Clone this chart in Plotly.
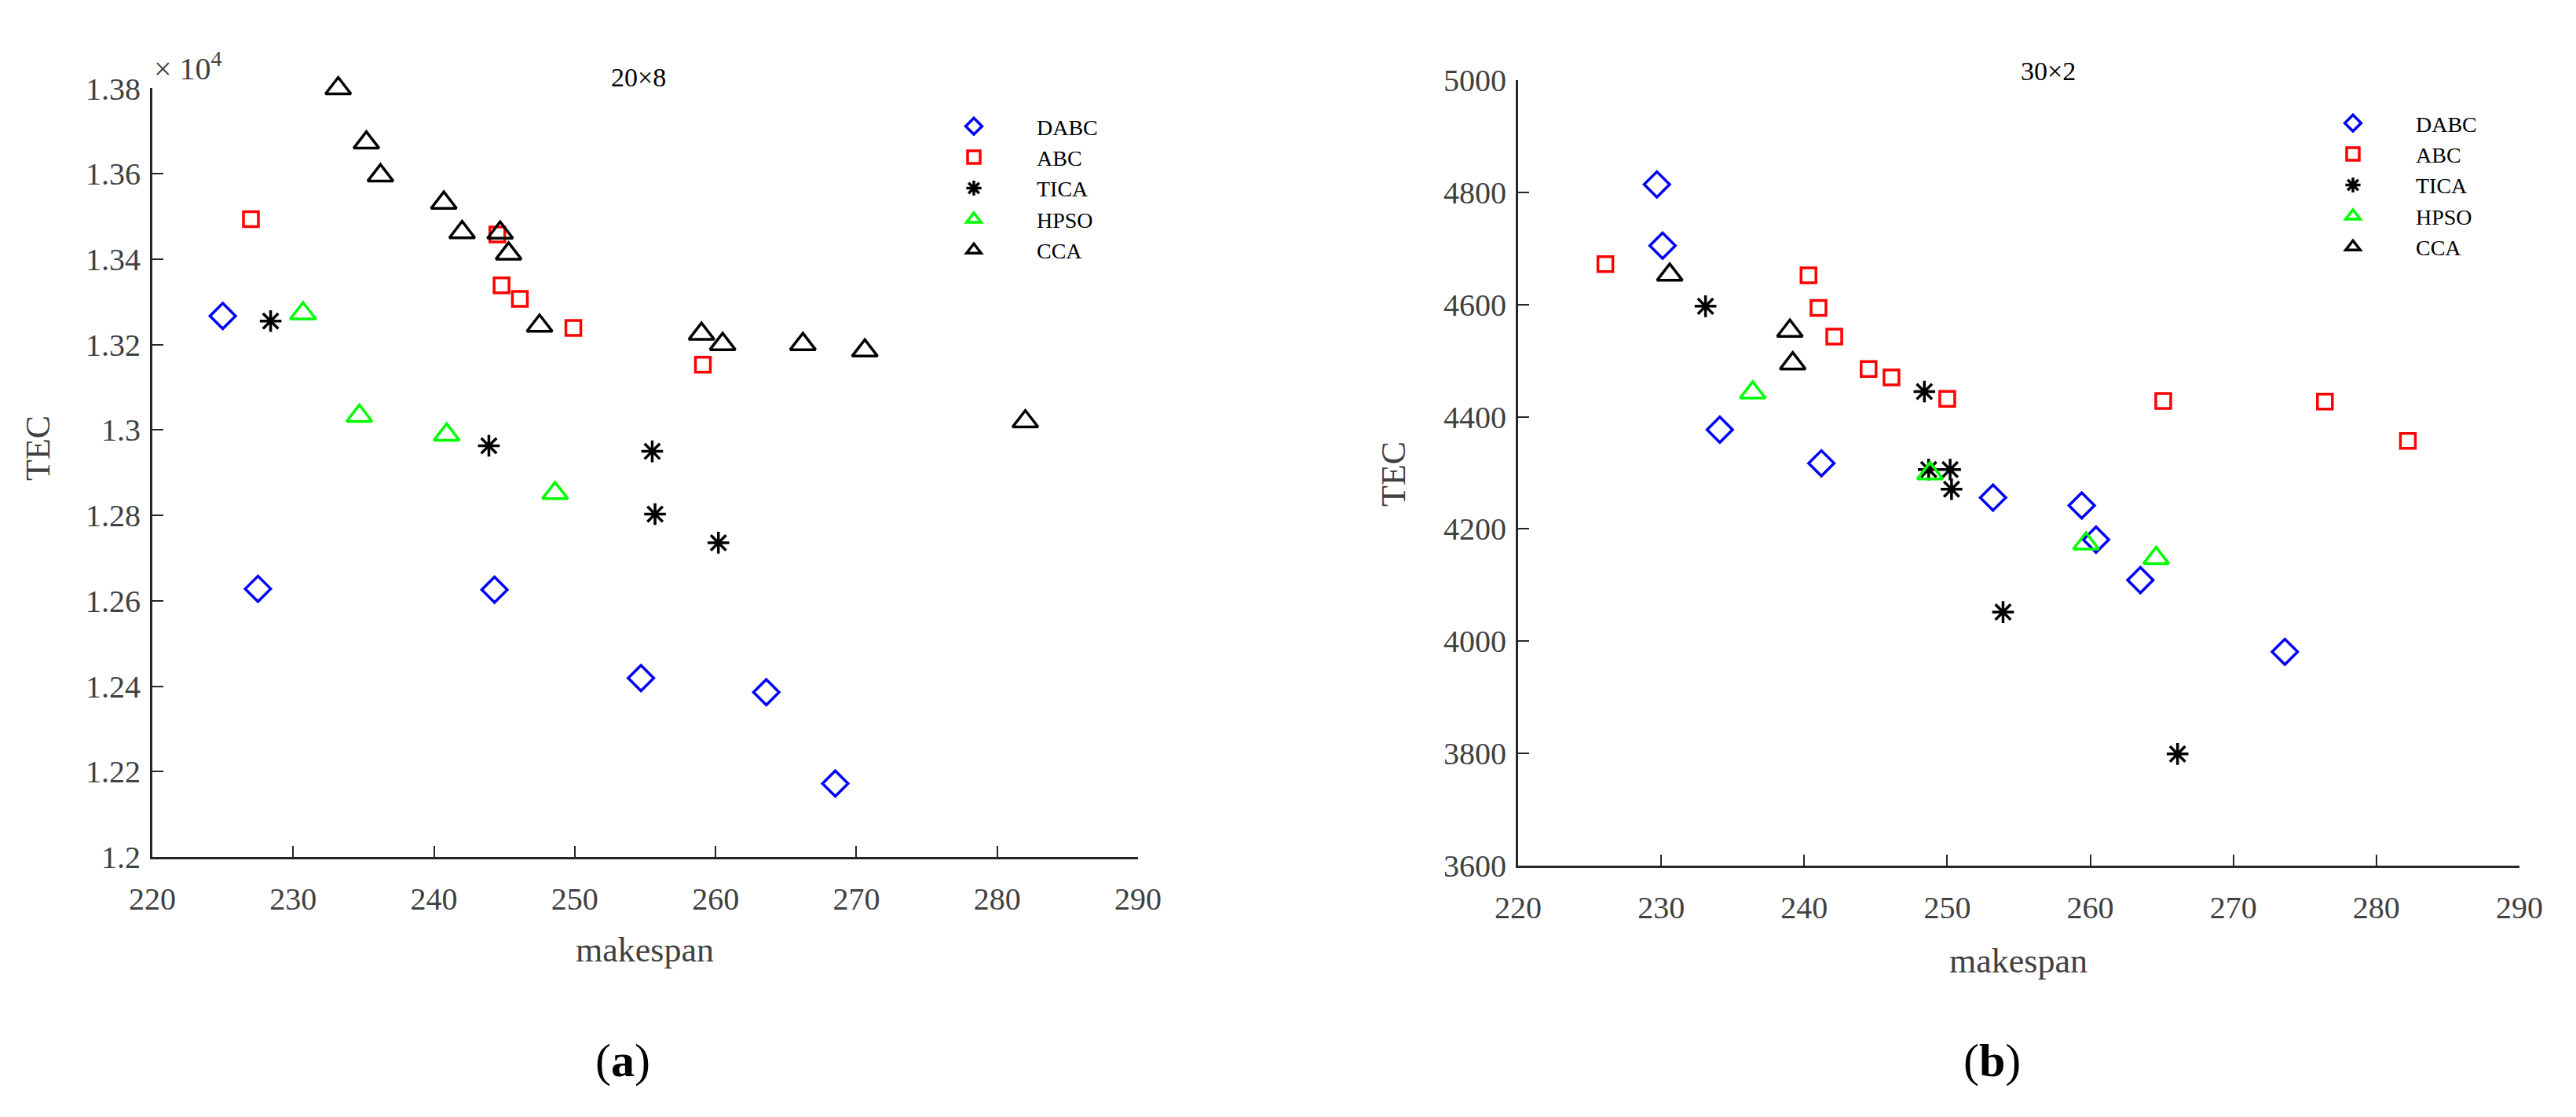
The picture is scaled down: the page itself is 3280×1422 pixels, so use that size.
import plotly.graph_objects as go

# ------------------------------------------
# DATA
# ------------------------------------------
# panel (a): 20x8 instance, TEC given in units of 10^4
A_DABC_X = [225.0, 227.5, 244.3, 254.7, 263.6, 268.5]
A_DABC_Y = [1.3267, 1.2628, 1.2626, 1.2419, 1.2386, 1.2172]
A_ABC_X = [227.0, 244.5, 244.8, 246.1, 249.9, 259.1]
A_ABC_Y = [1.3494, 1.3458, 1.3339, 1.3307, 1.3239, 1.3153]
A_TICA_X = [228.4, 243.9, 255.5, 255.7, 260.2]
A_TICA_Y = [1.3255, 1.2963, 1.2950, 1.2803, 1.2736]
A_HPSO_X = [230.7, 234.7, 240.9, 248.6]
A_HPSO_Y = [1.3273, 1.3033, 1.2989, 1.2852]
A_CCA_X = [233.2, 235.2, 236.2, 240.7, 242.0, 244.7, 245.3, 247.5, 259.0, 260.5, 266.2, 270.6, 282.0]
A_CCA_Y = [1.3800, 1.3673, 1.3596, 1.3532, 1.3463, 1.3462, 1.3413, 1.3244, 1.3225, 1.3201, 1.3201, 1.3186, 1.3020]

# panel (b): 30x2 instance
B_DABC_X = [229.7, 230.1, 234.1, 241.2, 253.2, 259.4, 260.4, 263.5, 273.6]
B_DABC_Y = [4814, 4705, 4377, 4317, 4256, 4242, 4181, 4109, 3981]
B_ABC_X = [226.1, 240.3, 241.0, 242.1, 244.5, 246.1, 250.0, 265.1, 276.4, 282.2]
B_ABC_Y = [4672, 4652, 4594, 4543, 4485, 4470, 4432, 4428, 4427, 4357]
B_TICA_X = [233.1, 248.4, 248.7, 250.2, 250.3, 253.9, 266.1]
B_TICA_Y = [4597, 4445, 4306, 4306, 4271, 4052, 3799]
B_HPSO_X = [236.4, 248.8, 259.7, 264.6]
B_HPSO_Y = [4443, 4299, 4174, 4148]
B_CCA_X = [230.6, 239.0, 239.2]
B_CCA_Y = [4653, 4553, 4495]

X_TICKS = [220, 230, 240, 250, 260, 270, 280, 290]
Y_TICKS_A = [1.2, 1.22, 1.24, 1.26, 1.28, 1.3, 1.32, 1.34, 1.36, 1.38]
Y_LABELS_A = ["1.2", "1.22", "1.24", "1.26", "1.28", "1.3", "1.32", "1.34", "1.36", "1.38"]
Y_TICKS_B = [3600, 3800, 4000, 4200, 4400, 4600, 4800, 5000]

# ------------------------------------------
# STYLE
# ------------------------------------------
W, H = 3280, 1422
FONT = "Liberation Serif"
TICK_GREY = "#404040"
AXIS_COL = "#262626"

# symbol, colour, size
STYLE = {
    "DABC": ("diamond-open", "#0000FF", 25),
    "ABC": ("square-open", "#FF0000", 19),
    "TICA": ("asterisk-open", "#000000", 23),
    "HPSO": ("triangle-up-open", "#00FF00", 28),
    "CCA": ("triangle-up-open", "#000000", 28),
}

PANELS = [
    ("x", "y", "legend", {
        "DABC": (A_DABC_X, A_DABC_Y), "ABC": (A_ABC_X, A_ABC_Y), "TICA": (A_TICA_X, A_TICA_Y),
        "HPSO": (A_HPSO_X, A_HPSO_Y), "CCA": (A_CCA_X, A_CCA_Y)}),
    ("x2", "y2", "legend2", {
        "DABC": (B_DABC_X, B_DABC_Y), "ABC": (B_ABC_X, B_ABC_Y), "TICA": (B_TICA_X, B_TICA_Y),
        "HPSO": (B_HPSO_X, B_HPSO_Y), "CCA": (B_CCA_X, B_CCA_Y)}),
]


def px(x, y):
    """pixel -> paper coords"""
    return x / W, 1 - y / H


fig = go.Figure()
for xa, ya, leg, series in PANELS:
    for name, (xs, ys) in series.items():
        sym, col, size = STYLE[name]
        fig.add_trace(go.Scatter(
            x=xs, y=ys, mode="markers", name=name, xaxis=xa, yaxis=ya, legend=leg,
            cliponaxis=False,
            marker=dict(symbol=sym, size=size, color=col, line=dict(color=col, width=3.5)),
        ))

axis_common = dict(
    showline=True, linecolor=AXIS_COL, linewidth=3, mirror=False,
    ticks="inside", ticklen=14, tickwidth=2, tickcolor=AXIS_COL,
    showgrid=False, zeroline=False, automargin=False,
    tickfont=dict(family=FONT, size=40, color=TICK_GREY),
)

legend_common = dict(
    xanchor="left", yanchor="top", bgcolor="rgba(0,0,0,0)",
    font=dict(family=FONT, size=28, color="black"),
    itemwidth=150, tracegroupgap=0,
)

fig.update_layout(
    width=W, height=H,
    margin=dict(l=0, r=0, t=0, b=0),
    paper_bgcolor="white", plot_bgcolor="white",
    font=dict(family=FONT, color="black"),
    xaxis=dict(axis_common, domain=[186 / W, 1441 / W], range=[220, 290],
               tickvals=X_TICKS, anchor="y", ticklabelstandoff=16),
    yaxis=dict(axis_common, domain=[1 - 1083 / H, 1 - 104 / H], range=[1.2, 1.3801],
               tickvals=Y_TICKS_A, ticktext=Y_LABELS_A, anchor="x", ticklabelstandoff=4),
    xaxis2=dict(axis_common, domain=[1925 / W, 3200 / W], range=[220, 290],
                tickvals=X_TICKS, anchor="y2", ticklabelstandoff=16),
    yaxis2=dict(axis_common, domain=[1 - 1094 / H, 1 - 94 / H], range=[3600, 5000],
                tickvals=Y_TICKS_B, anchor="x2", ticklabelstandoff=4),
    legend=dict(legend_common, x=px(1152, 0)[0], y=px(0, 128)[1]),
    legend2=dict(legend_common, x=px(2908, 0)[0], y=px(0, 124)[1]),
)

ann = []


def text(x, y, s, size, color="black", angle=0, xanchor="center"):
    xp, yp = px(x, y)
    ann.append(dict(x=xp, y=yp, xref="paper", yref="paper", text=s, showarrow=False,
                    xanchor=xanchor, yanchor="middle", textangle=angle,
                    font=dict(family=FONT, size=size, color=color)))


text(186, 76, "× 10<sup>4</sup>", 40, TICK_GREY, xanchor="left")
text(805, 90, "20×8", 34)
text(2600, 82, "30×2", 34)
text(813, 1201, "makespan", 44, TICK_GREY)
text(2562, 1215, "makespan", 44, TICK_GREY)
text(40, 563, "TEC", 44, TICK_GREY, angle=-90)
text(1766, 596, "TEC", 44, TICK_GREY, angle=-90)
text(785, 1342, "(<b>a</b>)", 60)
text(2528, 1342, "(<b>b</b>)", 60)
fig.update_layout(annotations=ann)

fig.write_html("out.html")
